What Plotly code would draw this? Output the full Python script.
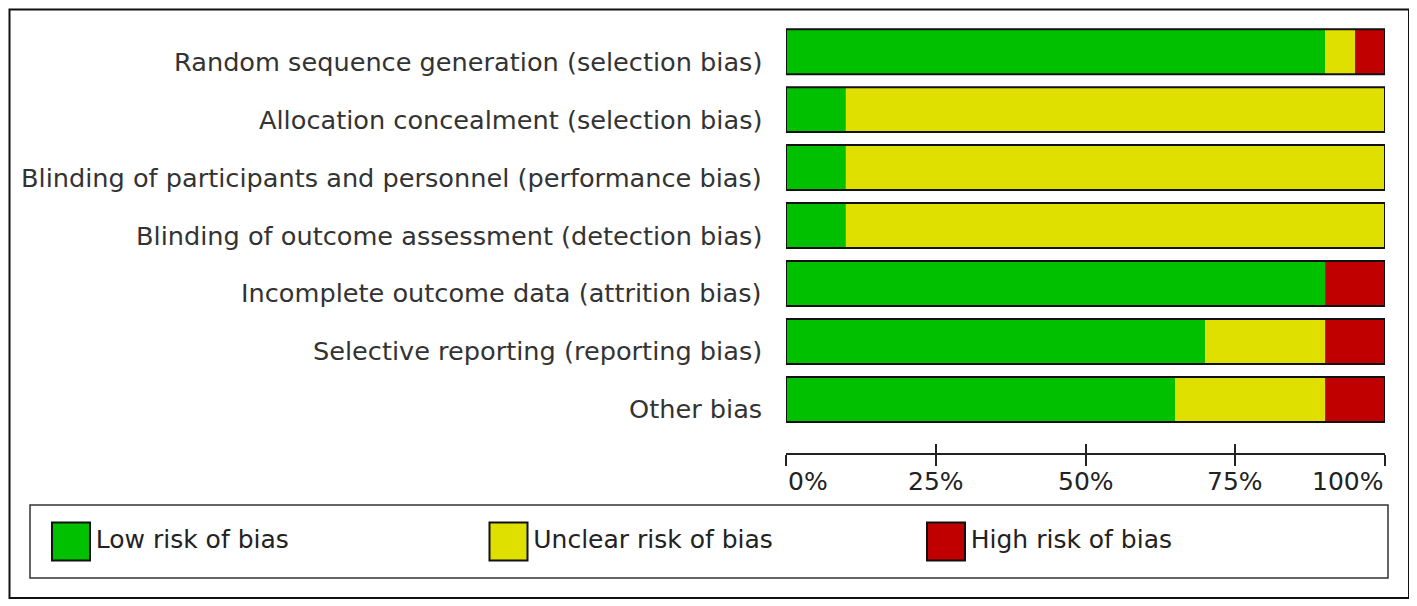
import plotly.graph_objects as go

# 비뚤림 위험 평가 항목
domains = [
    "Random sequence generation (selection bias)",
    "Allocation concealment (selection bias)",
    "Blinding of participants and personnel (performance bias)",
    "Blinding of outcome assessment (detection bias)",
    "Incomplete outcome data (attrition bias)",
    "Selective reporting (reporting bias)",
    "Other bias",
]
# 각 항목별 비율 (%)
low_risk = [90, 10, 10, 10, 90, 70, 65]
unclear_risk = [5, 90, 90, 90, 0, 20, 25]
high_risk = [5, 0, 0, 0, 10, 10, 10]

tick_values = [0, 25, 50, 75, 100]
tick_labels = ["0%", "25%", "50%", "75%", "100%"]

legend_names = ["Low risk of bias", "Unclear risk of bias", "High risk of bias"]
colors = ["#00C000", "#E0E000", "#C00000"]

# 페이지 body 여백(8px) 만큼 작게 잡음
OFF = 8
W, H = 1417 - OFF, 606 - OFF
LABEL_FONT = dict(family="DejaVu Sans", size=25.6, color="#333333")
TICK_FONT = dict(family="DejaVu Sans", size=25, color="#222222")


def px_x(p):
    return (p - OFF) / W


def px_y(p):
    return 1 - (p - OFF) / H


fig = go.Figure()

# 누적 막대 - overlay 모드에서 base 로 쌓기
bases = [[0] * len(domains),
         low_risk,
         [a + b for a, b in zip(low_risk, unclear_risk)]]
for vals, base, color, name in zip([low_risk, unclear_risk, high_risk], bases, colors, legend_names):
    fig.add_trace(go.Bar(
        y=domains, x=vals, base=base, orientation="h", name=name,
        marker_color=color, marker_line_width=0, width=0.776, showlegend=False,
    ))

# 막대 전체 테두리
totals = [a + b + c for a, b, c in zip(low_risk, unclear_risk, high_risk)]
fig.add_trace(go.Bar(
    y=domains, x=totals, orientation="h", width=0.776, showlegend=False,
    marker=dict(color="rgba(0,0,0,0)", line=dict(color="#111111", width=2)),
))

# 범례 (큰 사각형 마커)
fig.add_trace(go.Scatter(
    x=list(range(len(legend_names))), y=[0] * len(legend_names),
    mode="markers+text", text=legend_names, textposition="middle right",
    textfont=TICK_FONT,
    marker=dict(symbol="square", size=38, color=colors, line=dict(color="#111111", width=2)),
    xaxis="x3", yaxis="y3", showlegend=False, hoverinfo="skip",
))

# xaxis2 에도 연결되도록 빈 trace
fig.add_trace(go.Scatter(x=[None], y=[None], xaxis="x2", yaxis="y", showlegend=False))

x0, x1 = px_x(786), px_x(1385)
y_bot, y_top = px_y(453.3), px_y(22.7)
leg_x0 = -(71 - OFF) / 437.5

fig.update_layout(
    width=W, height=H,
    margin=dict(l=0, r=0, t=0, b=0),
    paper_bgcolor="white", plot_bgcolor="white",
    barmode="overlay",
    xaxis=dict(domain=[x0, x1], range=[0, 100], tickvals=tick_values, showticklabels=False,
               ticks="outside", ticklen=11, tickwidth=2, tickcolor="#222222",
               showline=True, linecolor="#222222", linewidth=2, showgrid=False, zeroline=False,
               fixedrange=True),
    xaxis2=dict(domain=[x0, x1], range=[0, 100], overlaying="x", anchor="y", side="bottom",
                tickvals=tick_values, showticklabels=False, ticks="inside", ticklen=9,
                tickwidth=2, tickcolor="#222222", showgrid=False, zeroline=False),
    yaxis=dict(domain=[y_bot, y_top], range=[6.93, -0.5], showticklabels=False,
               showgrid=False, zeroline=False, ticks=""),
    xaxis3=dict(domain=[0, 1], range=[leg_x0, leg_x0 + W / 437.5], visible=False),
    yaxis3=dict(domain=[px_y(578), px_y(505)], range=[-1, 1], visible=False, anchor="x3"),
    font=LABEL_FONT,
)

# 항목 레이블
for d in domains:
    fig.add_annotation(text=d, xref="x domain", x=0, xanchor="right", xshift=-22,
                       y=d, yref="y", yshift=-10, showarrow=False, font=LABEL_FONT)

# x축 눈금 레이블
for v, lab in zip(tick_values, tick_labels):
    anchor = "left" if v == tick_values[0] else ("right" if v == tick_values[-1] else "center")
    fig.add_annotation(text=lab, x=v, xref="x", xanchor=anchor, y=0, yref="y domain",
                       yanchor="top", yshift=-12, showarrow=False, font=TICK_FONT)

# 외곽 테두리 및 범례 박스
fig.add_shape(type="rect", xref="paper", yref="paper",
              x0=px_x(9.5), x1=px_x(1409), y0=px_y(598), y1=px_y(9.5),
              line=dict(color="#111111", width=2))
fig.add_shape(type="rect", xref="paper", yref="paper",
              x0=px_x(30), x1=px_x(1388), y0=px_y(578), y1=px_y(505),
              line=dict(color="#333333", width=1.5))

fig.write_html("out.html")
